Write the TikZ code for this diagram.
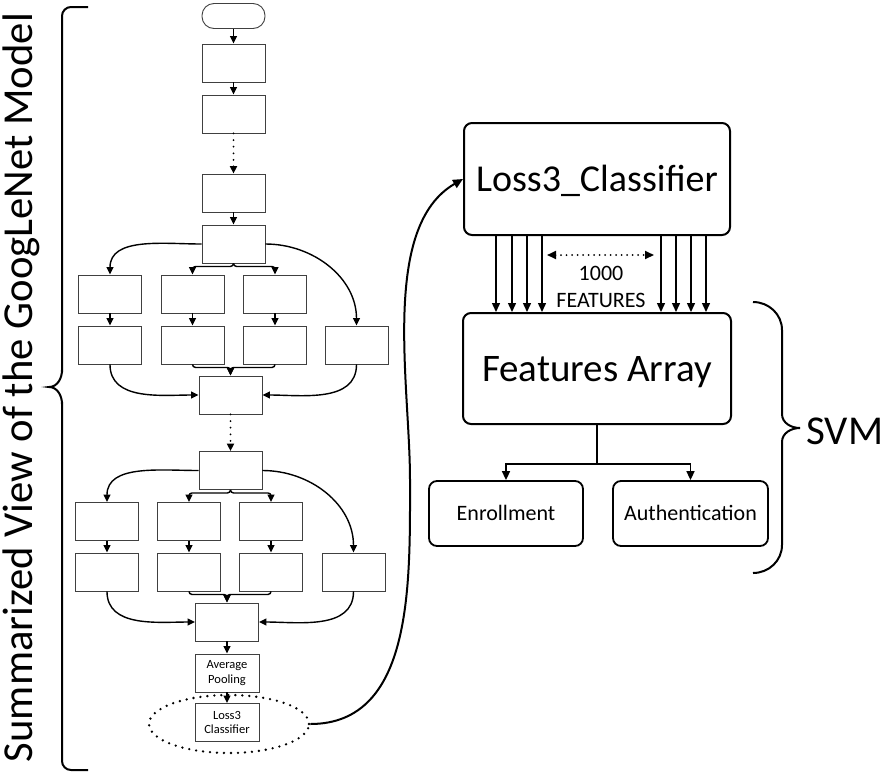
\documentclass[tikz,border=0pt]{standalone}
\usepackage{fontspec}
\setmainfont{Carlito}
\usetikzlibrary{arrows.meta,shapes.geometric}

\begin{document}
\begin{tikzpicture}[x=1pt, y=1pt,
    layer/.style={draw=black!75, line width=0.9pt, minimum width=63pt, minimum height=38pt, inner sep=0pt},
    flow/.style={-{Triangle[length=7.5pt,width=7pt]}, line width=1.4pt},
    skip/.style={flow, line width=2pt, dash pattern=on 0pt off 6.6pt, line cap=round},
    bigbox/.style={draw, line width=2pt, rounded corners=8pt, inner sep=0pt},
    feat/.style={-{Triangle[length=9pt,width=8pt]}, line width=1.4pt}]
    \useasboundingbox (0,0) rectangle (886,-772);

    % Titel links
    \node[rotate=90, anchor=base, inner sep=0pt, font=\fontsize{42.7}{48}\selectfont] (title) at (32,-387.5) {Summarized View of the GoogLeNet Model};

    % Klammer links
    \draw[line width=2pt, rounded corners=9pt] (88,-7) -- (62,-7) -- (62,-372);
    \draw[line width=2pt] (62,-370) to[out=-90,in=0] (49,-387) to[out=0,in=90] (62,-404);
    \draw[line width=2pt, rounded corners=9pt] (62,-402) -- (62,-770) -- (88,-770);

    % Stamm
    \node[draw=black!75, line width=0.9pt, rounded corners=12pt, minimum width=63pt, minimum height=25pt] (start) at (233.5,-16) {};
    \node[layer] (l1) at (233.5,-63) {};
    \node[layer] (l2) at (233.5,-114) {};
    \node[layer] (l3) at (233.5,-193) {};
    \node[layer] (l4) at (233.5,-244) {};
    \draw[flow] (start) -- (l1);
    \draw[flow] (l1) -- (l2);
    \draw[skip] (l2) -- (l3);
    \draw[flow] (l3) -- (l4);

    % Inception-Modul 1
    \node[layer] (ia1) at (110,-294) {};
    \node[layer] (ib1) at (192.5,-294) {};
    \node[layer] (ic1) at (275,-294) {};
    \node[layer] (ia2) at (110,-345) {};
    \node[layer] (ib2) at (192.5,-345) {};
    \node[layer] (ic2) at (275,-345) {};
    \node[layer] (id2) at (356.5,-345) {};
    \node[layer] (im) at (230.5,-395) {};
    \draw[flow] (l4.west) to[out=180,in=90] (ia1.north);
    \draw[flow] (l4.east) to[out=0,in=90] (id2.north);
    \draw[flow, rounded corners=3pt] (l4.south) -- ++(0,-3) -| (ib1.north);
    \draw[flow, rounded corners=3pt] (l4.south) -- ++(0,-3) -| (ic1.north);
    \draw[flow] (ia1) -- (ia2);
    \draw[flow] (ib1) -- (ib2);
    \draw[flow] (ic1) -- (ic2);
    \draw[flow] (ia2.south) to[out=-90,in=180] (im.west);
    \draw[flow] (id2.south) to[out=-90,in=0] (im.east);
    \draw[flow, rounded corners=3pt] (ib2.south) -- ++(0,-3) -| (im.north);
    \draw[flow, rounded corners=3pt] (ic2.south) -- ++(0,-3) -| (im.north);

    \node[layer] (l5) at (230.5,-470.5) {};
    \draw[skip] (im) -- (l5);

    % Inception-Modul 2
    \node[layer] (ja1) at (107,-521.5) {};
    \node[layer] (jb1) at (189,-521.5) {};
    \node[layer] (jc1) at (271,-521.5) {};
    \node[layer] (ja2) at (107,-572) {};
    \node[layer] (jb2) at (189,-572) {};
    \node[layer] (jc2) at (271,-572) {};
    \node[layer] (jd2) at (353.5,-572) {};
    \node[layer] (jm) at (227,-622) {};
    \draw[flow] (l5.west) to[out=180,in=90] (ja1.north);
    \draw[flow] (l5.east) to[out=0,in=90] (jd2.north);
    \draw[flow, rounded corners=3pt] (l5.south) -- ++(0,-3) -| (jb1.north);
    \draw[flow, rounded corners=3pt] (l5.south) -- ++(0,-3) -| (jc1.north);
    \draw[flow] (ja1) -- (ja2);
    \draw[flow] (jb1) -- (jb2);
    \draw[flow] (jc1) -- (jc2);
    \draw[flow] (ja2.south) to[out=-90,in=180] (jm.west);
    \draw[flow] (jd2.south) to[out=-90,in=0] (jm.east);
    \draw[flow, rounded corners=3pt] (jb2.south) -- ++(0,-3) -| (jm.north);
    \draw[flow, rounded corners=3pt] (jc2.south) -- ++(0,-3) -| (jm.north);

    % Pooling und Klassifikator
    \node[layer, minimum width=64pt, align=center, font=\fontsize{12.5}{14.5}\selectfont] (avg) at (227,-673) {Average\\Pooling};
    \node[layer, minimum width=64pt, align=center, font=\fontsize{12.5}{14.5}\selectfont] (cls) at (227,-722.5) {Loss3\\Classifier};
    \draw[flow] (jm) -- (avg);
    \draw[flow] (avg) -- (cls);
    \node[ellipse, draw, line width=2.6pt, dash pattern=on 0pt off 7pt, line cap=round, minimum width=160pt, minimum height=58pt] (ell) at (229,-724) {};

    % SVM-Teil
    \node[bigbox, minimum width=266pt, minimum height=112pt, font=\fontsize{38}{44}\selectfont, text height=24.5pt, text depth=0pt] (lc) at (597,-179) {Loss3\_Classifier};
    \node[bigbox, minimum width=268pt, minimum height=111pt, font=\fontsize{39}{45}\selectfont, text height=25pt, text depth=0pt] (fa) at (597,-368.5) {Features Array};
    \foreach \d in {-101,-85,-70,-55,64,79,94,109}
        \draw[feat] ([xshift=\d pt]lc.south) -- ([xshift=\d pt]fa.north);

    % Verbindung zum Klassifikator rechts
    \coordinate (bend) at (410,-480);
    \draw[line width=2pt, -{Triangle[length=10pt,width=9pt]}] (ell.east) to[out=0,in=-90] (bend) to[out=90,in=210,looseness=0.8] (lc.west);

    % 1000 Merkmale
    \coordinate (nl) at (547,-255);
    \coordinate (nr) at (654,-255);
    \draw[{Triangle[length=9pt,width=8pt]}-{Triangle[length=9pt,width=8pt]}, line width=2pt, dash pattern=on 0pt off 5.5pt, line cap=round] (nl) -- (nr);
    \node[align=center, inner sep=0pt, font=\fontsize{22}{27}\selectfont] (nfeat) at (601,-287) {1000\\FEATURES};

    \node[bigbox, line width=1.8pt, minimum width=154pt, minimum height=65pt, font=\fontsize{22}{26}\selectfont, text height=14pt, text depth=0pt] (en) at (506,-513.5) {Enrollment};
    \node[bigbox, line width=1.8pt, minimum width=155pt, minimum height=65pt, font=\fontsize{22}{26}\selectfont, text height=14pt, text depth=0pt] (au) at (690.5,-513.5) {Authentication};
    \draw[feat, line width=1.6pt] (fa.south) -- ++(0,-39) -| (en.north);
    \draw[feat, line width=1.6pt] (fa.south) -- ++(0,-39) -| (au.north);

    % Klammer rechts
    \draw[line width=2pt] (753,-302) to[out=0,in=90] (782,-330) -- (782,-414) to[out=-90,in=180] (800,-428);
    \draw[line width=2pt] (800,-428) to[out=180,in=90] (782,-442) -- (782,-545) to[out=-90,in=0] (753,-573);
    \node[anchor=west, inner sep=0pt, font=\fontsize{41}{48}\selectfont] (svm) at (806,-431) {SVM};
\end{tikzpicture}
\end{document}
